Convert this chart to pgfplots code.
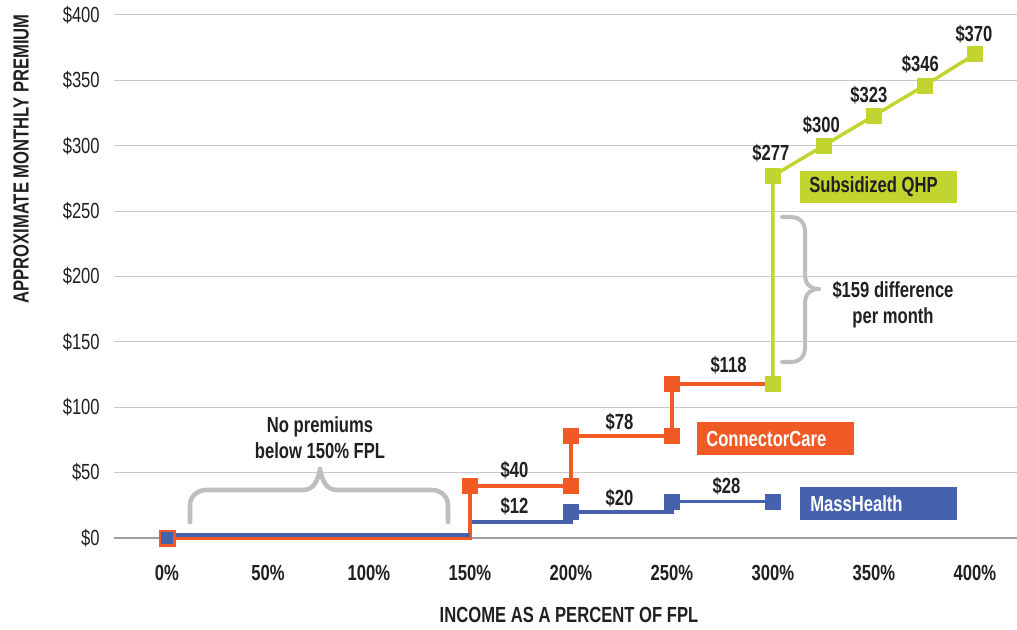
\documentclass[border=0pt]{standalone}
\usepackage{fontspec}
\setmainfont{Liberation Sans}[FakeStretch=0.76]
\usepackage{pgfplots}
\pgfplotsset{compat=1.18}
\definecolor{mh}{HTML}{4662AD}
\definecolor{cc}{HTML}{F15A24}
\definecolor{qhp}{HTML}{C1D42F}
\definecolor{txt}{HTML}{231F20}
\definecolor{brc}{HTML}{BDBEC0}
\definecolor{grd}{HTML}{C8C8C8}
\newcommand{\fs}{\fontsize{16.4}{19.5}\selectfont}

\begin{document}
\begin{tikzpicture}[font=\fs, text=txt]
\useasboundingbox (0,0) rectangle (762.75pt,471.75pt);
\begin{axis}[
  at={(85.5pt,68.25pt)}, anchor=south west,
  scale only axis, width=677.25pt, height=392.25pt,
  xmin=-26.2, xmax=420.8, ymin=0, ymax=400,
  axis line style={draw=none}, major tick length=0pt,
  ymajorgrids, grid style={grd, line width=0.75pt},
  clip=false,
  xtick={0,50,...,400},
  xticklabels={0\%,50\%,100\%,150\%,200\%,250\%,300\%,350\%,400\%},
  ytick={0,50,...,400},
  yticklabels={\$0,\$50,\$100,\$150,\$200,\$250,\$300,\$350,\$400},
  xticklabel style={font=\fs\bfseries, anchor=center, inner sep=0pt, yshift=-26.25pt},
  yticklabel style={font=\fs, anchor=east, inner sep=0pt, xshift=-10.5pt},
]
\draw[gray!75, line width=0.9pt] (rel axis cs:0,0) -- (rel axis cs:1,0);
% MassHealth steps
\addplot[mh, line width=2.8pt] coordinates {(150,0) (150,12) (200,12) (200,20) (250,20) (250,28) (300,28)};
% ConnectorCare steps
\addplot[cc, line width=3pt] coordinates {(0,0) (150,0) (150,40) (200,40) (200,78) (250,78) (250,118) (300,118)};
\addplot[mh, line width=2.8pt, yshift=2.25pt] coordinates {(0,0) (150,0)};
% Subsidized QHP
\addplot[qhp, line width=2.6pt] coordinates {(300,118) (300,277) (325,300) (350,323) (375,346) (400,370)};
% markers
\addplot[only marks, mark=square*, mark size=5.6pt, mark options={draw=mh, fill=mh}] coordinates {(200,20) (250,28) (300,28)};
\addplot[only marks, mark=square*, mark size=5.6pt, mark options={draw=cc, fill=cc}] coordinates {(150,40) (200,40) (200,78) (250,78) (250,118)};
\addplot[only marks, mark=square*, mark size=5.6pt, mark options={draw=qhp, fill=qhp}] coordinates {(300,118) (300,277) (325,300) (350,323) (375,346) (400,370)};
\addplot[only marks, mark=square*, mark size=6pt, mark options={draw=cc, fill=cc}] coordinates {(0,0)};
\addplot[only marks, mark=square*, mark size=4.2pt, mark options={draw=mh, fill=mh}] coordinates {(0,0)};
% value labels
\begin{scope}[every node/.style={font=\fs\bfseries, text=txt}]
\node at (axis cs:172,24) {\$12};
\node at (axis cs:172,52) {\$40};
\node at (axis cs:224,30.6) {\$20};
\node at (axis cs:224,88.5) {\$78};
\node at (axis cs:277,39.8) {\$28};
\node at (axis cs:278,131.8) {\$118};
\node at (axis cs:299,294) {\$277};
\node at (axis cs:324,316) {\$300};
\node at (axis cs:347.5,339) {\$323};
\node at (axis cs:373,362) {\$346};
\node at (axis cs:399.5,385) {\$370};
\end{scope}
\end{axis}
% annotations in pixel units of the reference
\begin{scope}[x=0.75pt, y=-0.75pt, shift={(0pt,471.75pt)}]
\fill[qhp] (800,171) rectangle (957,203);
\node[anchor=west, font=\fs\bfseries, text=txt, inner sep=0pt] at (809,187) {Subsidized QHP};
\fill[cc] (697,422) rectangle (854,455);
\node[anchor=west, font=\fs\bfseries, text=white, inner sep=0pt] at (706,438.5) {ConnectorCare};
\fill[mh] (800,487) rectangle (957,520);
\node[anchor=west, font=\fs\bfseries, text=white, inner sep=0pt] at (810,503.5) {MassHealth};
% braces
\draw[brc, line width=3.4pt, line cap=round]
  (190,522) -- (190,505) to[out=90,in=180] (206,490) -- (303,490) .. controls (314,490) and (318,480) .. (320,469);
\draw[brc, line width=3.4pt, line cap=round]
  (448,522) -- (448,505) to[out=90,in=0] (432,490) -- (337,490) .. controls (326,490) and (322,480) .. (320,469);
\draw[brc, line width=3pt, line cap=round]
  (782,217) -- (792,217) to[out=0,in=90] (805,230) -- (805,274) .. controls (805,285) and (811,289) .. (819,289);
\draw[brc, line width=3pt, line cap=round]
  (782,362) -- (792,362) to[out=0,in=-90] (805,349) -- (805,304) .. controls (805,293) and (811,289) .. (819,289);
\node[font=\fs\bfseries, align=center, text=txt] at (320,437.5) {No premiums\\below 150\% FPL};
\node[font=\fs\bfseries, align=center, text=txt] at (893,305) {\$159 difference\\per month};
% axis titles
\node[font=\fs\bfseries, rotate=90, text=txt] at (21,159) {APPROXIMATE MONTHLY PREMIUM};
\node[font=\fs\bfseries, text=txt] at (569,615) {INCOME AS A PERCENT OF FPL};
\end{scope}
\end{tikzpicture}
\end{document}
